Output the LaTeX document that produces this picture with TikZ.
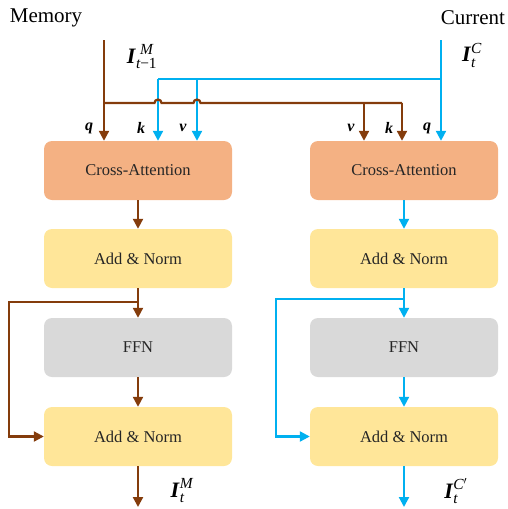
\documentclass[tikz,border=0pt]{standalone}
\usepackage{amsmath}
\usepackage{fontspec}
\setmainfont{Liberation Serif}
\usetikzlibrary{arrows.meta,calc}
\definecolor{brn}{HTML}{843C0C}
\definecolor{blu}{HTML}{00B0F0}
\definecolor{attn}{HTML}{F4B183}
\definecolor{addn}{HTML}{FFE699}
\definecolor{ffng}{HTML}{D9D9D9}
\tikzset{
  blk/.style={rounded corners=8pt, minimum width=188pt, minimum height=59pt, inner sep=0pt,
    font=\fontsize{16.5}{18}\selectfont, text=black!85},
  brnline/.style={line width=2.2pt, draw=brn},
  bluline/.style={line width=2.2pt, draw=blu},
  tip/.style={-{Triangle[length=10pt,width=10pt]}},
  qkv/.style={font=\fontsize{16}{17}\selectfont\bfseries\itshape, inner sep=0pt},
  title/.style={font=\fontsize{21}{23}\selectfont, inner sep=0pt},
  vlab/.style={font=\fontsize{22}{23}\selectfont, inner sep=0pt}
}
\begin{document}
\begin{tikzpicture}[x=1pt,y=-1pt]
\useasboundingbox (0,0) rectangle (508,509);

% boxes
\node[blk, fill=attn] (ca1) at (138,170.5) {Cross-Attention};
\node[blk, fill=addn] (an1) at (138,258.5) {Add \& Norm};
\node[blk, fill=ffng] (ff1) at (138,347.5) {FFN};
\node[blk, fill=addn] (ao1) at (138,436.5) {Add \& Norm};
\node[blk, fill=attn] (ca2) at (404,170.5) {Cross-Attention};
\node[blk, fill=addn] (an2) at (404,258.5) {Add \& Norm};
\node[blk, fill=ffng] (ff2) at (404,347.5) {FFN};
\node[blk, fill=addn] (ao2) at (404,436.5) {Add \& Norm};

% titles
\node[title] (mem) at (46,18) {Memory};
\node[title] (cur) at (473,18) {Current};

% coordinates
\coordinate (m0) at (104,40);
\coordinate (jm) at (104,103);
\coordinate (c0) at (441,40);
\coordinate (jc) at (441,79);
\coordinate (bk) at (158,79);
\coordinate (bv) at (197,79);
\coordinate (rv) at (364,103);
\coordinate (rk) at (402,103);

% blue input lines
\draw[bluline] (jc) -- (bk);
\draw[bluline, tip] (bk) -- (bk |- ca1.north);
\draw[bluline, tip] (bv) -- (bv |- ca1.north);
\draw[bluline, tip] (c0) -- (c0 |- ca2.north);

% brown input lines
\draw[brnline, tip] (m0) -- (m0 |- ca1.north);
\draw[brnline] (jm) -- ($(bk |- jm)+(-3.5,0)$) arc[start angle=180, end angle=360, radius=3.5]
  -- ($(bv |- jm)+(-3.5,0)$) arc[start angle=180, end angle=360, radius=3.5]
  -- (rk);
\draw[brnline, tip] (rk) -- (rk |- ca2.north);
\draw[brnline, tip] (rv) -- (rv |- ca2.north);

% q k v labels
\node[qkv] (q1) at (89,128) {q};
\node[qkv] (k1) at (141,128) {k};
\node[qkv] (v1) at (183,128) {v};
\node[qkv] (v2) at (351,128) {v};
\node[qkv] (k2) at (389,128) {k};
\node[qkv] (q2) at (427,128) {q};

% vector labels
\node[vlab] (im) at (142,57) {$\textbf{\textit{I}}_{\textit{t}\text{−1}}^{\;\textit{M}}$};
\node[vlab] (ic) at (472,55) {$\textbf{\textit{I}}_{\textit{t}}^{\textit{C}}$};
\node[vlab] (om) at (182,491) {$\textbf{\textit{I}}_{\textit{t}}^{\textit{M}}$};
\node[vlab] (oc) at (456,491) {$\textbf{\textit{I}}_{\textit{t}}^{\textit{C}'}$};

% left column flow
\draw[brnline, tip] (ca1) -- (an1);
\draw[brnline, tip] (an1) -- (ff1);
\draw[brnline, tip] (ff1) -- (ao1);
\coordinate (s1) at (138,302);
\coordinate (s1l) at (9,302);
\draw[brnline, tip] (s1) -- (s1l) |- (ao1.west);
\coordinate (o1) at (138,507);
\draw[brnline, tip] (ao1) -- (o1);

% right column flow
\draw[bluline, tip] (ca2) -- (an2);
\draw[bluline, tip] (an2) -- (ff2);
\draw[bluline, tip] (ff2) -- (ao2);
\coordinate (s2) at (404,299);
\coordinate (s2l) at (276,299);
\draw[bluline, tip] (s2) -- (s2l) |- (ao2.west);
\coordinate (o2) at (404,507);
\draw[bluline, tip] (ao2) -- (o2);
\end{tikzpicture}
\end{document}
